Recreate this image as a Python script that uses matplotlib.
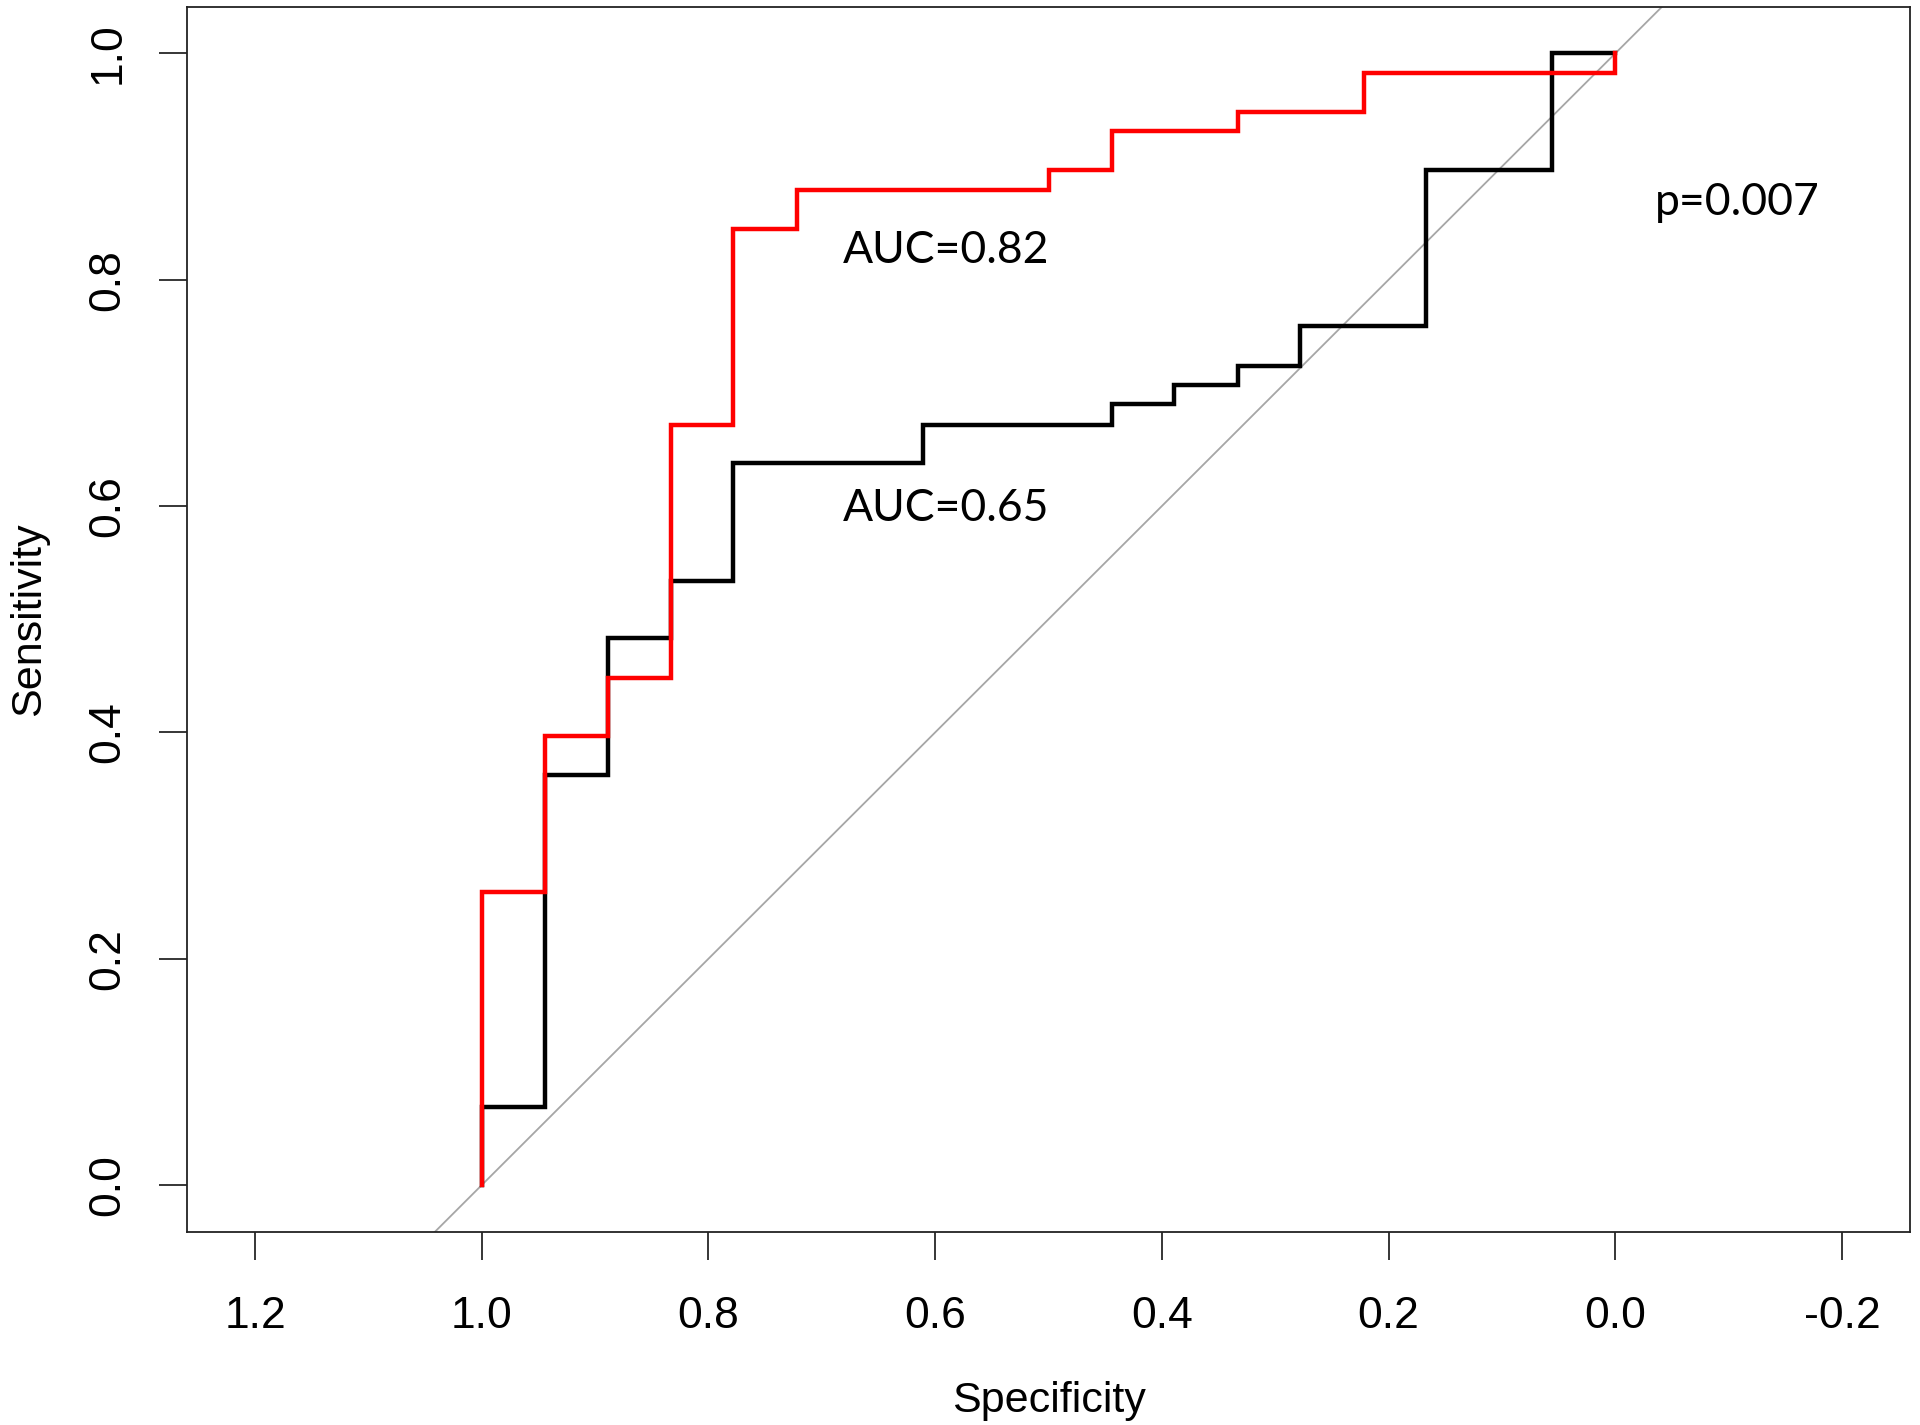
import matplotlib
matplotlib.use("Agg")
import matplotlib.pyplot as plt

# ROC points (specificity, sensitivity)
red_spec = [1.0, 0.944, 0.889, 0.833, 0.778, 0.722, 0.5, 0.444, 0.333, 0.222, 0.0, 0.0]
red_sens = [0.0, 0.259, 0.397, 0.448, 0.672, 0.845, 0.879, 0.897, 0.931, 0.948, 0.983, 1.0]

black_spec = [1.0, 0.944, 0.889, 0.833, 0.778, 0.611, 0.444, 0.389, 0.333, 0.278, 0.167, 0.056, 0.0]
black_sens = [0.0, 0.069, 0.362, 0.483, 0.534, 0.638, 0.672, 0.690, 0.707, 0.724, 0.759, 0.897, 1.0]

x_ticks = [1.2, 1.0, 0.8, 0.6, 0.4, 0.2, 0.0, -0.2]
y_ticks = [0.0, 0.2, 0.4, 0.6, 0.8, 1.0]

auc_red = "AUC=0.82"
auc_black = "AUC=0.65"
p_text = "p=0.007"

plt.rcParams['font.family'] = ['Liberation Sans', 'DejaVu Sans']

fig = plt.figure(figsize=(19.2, 14.25), dpi=100)
ax = fig.add_axes([0.0974, 0.1354, 0.8974, 0.8597])

# chance line across the whole panel
ax.axline((1, 0), (0, 1), color='#a6a6a6', lw=1.3, zorder=1)

ax.plot(black_spec, black_sens, drawstyle='steps-pre', color='black', lw=3.2,
        solid_joinstyle='miter', zorder=2)
ax.plot(red_spec, red_sens, drawstyle='steps-pre', color='#ff0000', lw=3.2,
        solid_joinstyle='miter', zorder=3)

ax.set_xlim(1.26, -0.26)
ax.set_ylim(-0.0415, 1.041)

ax.set_xticks(x_ticks)
ax.set_xticklabels(["%.1f" % v for v in x_ticks])
ax.set_yticks(y_ticks)
ax.set_yticklabels(["%.1f" % v for v in y_ticks], rotation=90, va='center')

ax.tick_params(axis='both', direction='out', length=20, width=1.1,
               labelsize=32, color='black')
ax.tick_params(axis='x', pad=26)
ax.tick_params(axis='y', pad=22)

for s in ax.spines.values():
    s.set_linewidth(1.3)
    s.set_color('#222222')

ax.set_xlabel("Specificity", fontsize=31, labelpad=32)
ax.set_ylabel("Sensitivity", fontsize=31, labelpad=28)

txt_font = ['Lato', 'DejaVu Sans']
ax.text(0.681, 0.815, auc_red, fontsize=32, family=txt_font, ha='left', va='baseline')
ax.text(0.681, 0.587, auc_black, fontsize=32, family=txt_font, ha='left', va='baseline')
ax.text(-0.035, 0.857, p_text, fontsize=32, family=txt_font, ha='left', va='baseline')

fig.savefig("out.png", dpi=100)
